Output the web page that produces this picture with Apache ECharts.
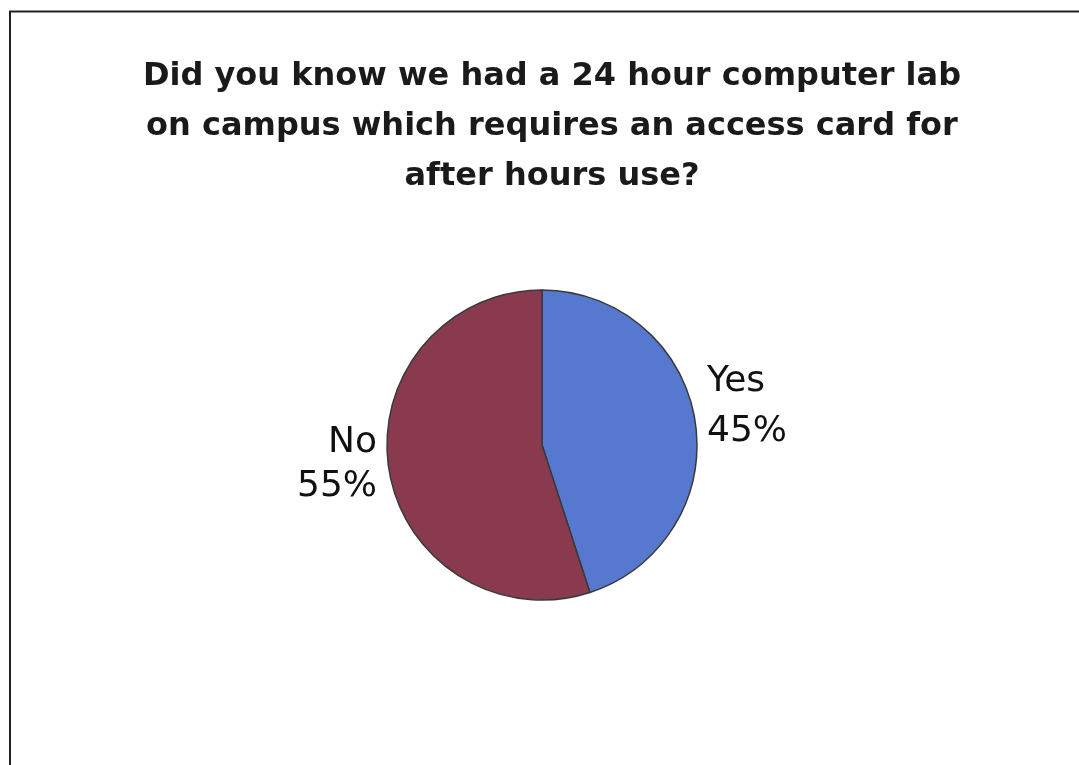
<!DOCTYPE html>
<html>
<head>
<meta charset="utf-8">
<script src="https://cdn.jsdelivr.net/npm/echarts@6/dist/echarts.min.js"></script>
<style>
html,body{margin:0;padding:0;background:#fff;}
#chart{width:1079px;height:765px;}
</style>
</head>
<body>
<div id="chart"></div>
<script>
const titleText = "Did you know we had a 24 hour computer lab\non campus which requires an access card for\nafter hours use?";
const categories = ["Yes", "No"];
const values = [45, 55];
const colors = ["#5678CF", "#8A3A4E"];

const labelLineHeights = [50, 44];
const labelShiftY = [-13, -6];

const chart = echarts.init(document.getElementById('chart'), null, {renderer: 'canvas'});
chart.setOption({
  backgroundColor: '#ffffff',
  animation: false,
  title: {
    text: titleText,
    left: 547,
    textAlign: 'center',
    top: 47,
    textStyle: {
      fontFamily: 'DejaVu Sans, sans-serif',
      fontWeight: 'bold',
      fontSize: 32,
      lineHeight: 50,
      color: '#1a1a1a'
    }
  },
  graphic: [
    {type: 'line', shape: {x1: 9, y1: 11.5, x2: 1079, y2: 11.5}, style: {stroke: '#222', lineWidth: 2}},
    {type: 'line', shape: {x1: 10, y1: 11, x2: 10, y2: 765}, style: {stroke: '#222', lineWidth: 2}}
  ],
  series: [{
    type: 'pie',
    center: [542, 445],
    radius: 155,
    startAngle: 90,
    clockwise: true,
    data: categories.map((c, i) => ({
      name: c, value: values[i],
      itemStyle: {color: colors[i]},
      label: {lineHeight: labelLineHeights[i]}
    })),
    itemStyle: {borderColor: '#3a3a3a', borderWidth: 1.5},
    label: {
      show: true,
      position: 'outside',
      formatter: p => p.name + '\n' + p.value + '%',
      fontFamily: 'DejaVu Sans, sans-serif',
      fontSize: 36,
      color: '#111'
    },
    labelLine: {show: false, length: 7, length2: 0},
    labelLayout: p => ({dy: labelShiftY[p.dataIndex]}),
    emphasis: {disabled: true}
  }]
});
</script>
</body>
</html>
